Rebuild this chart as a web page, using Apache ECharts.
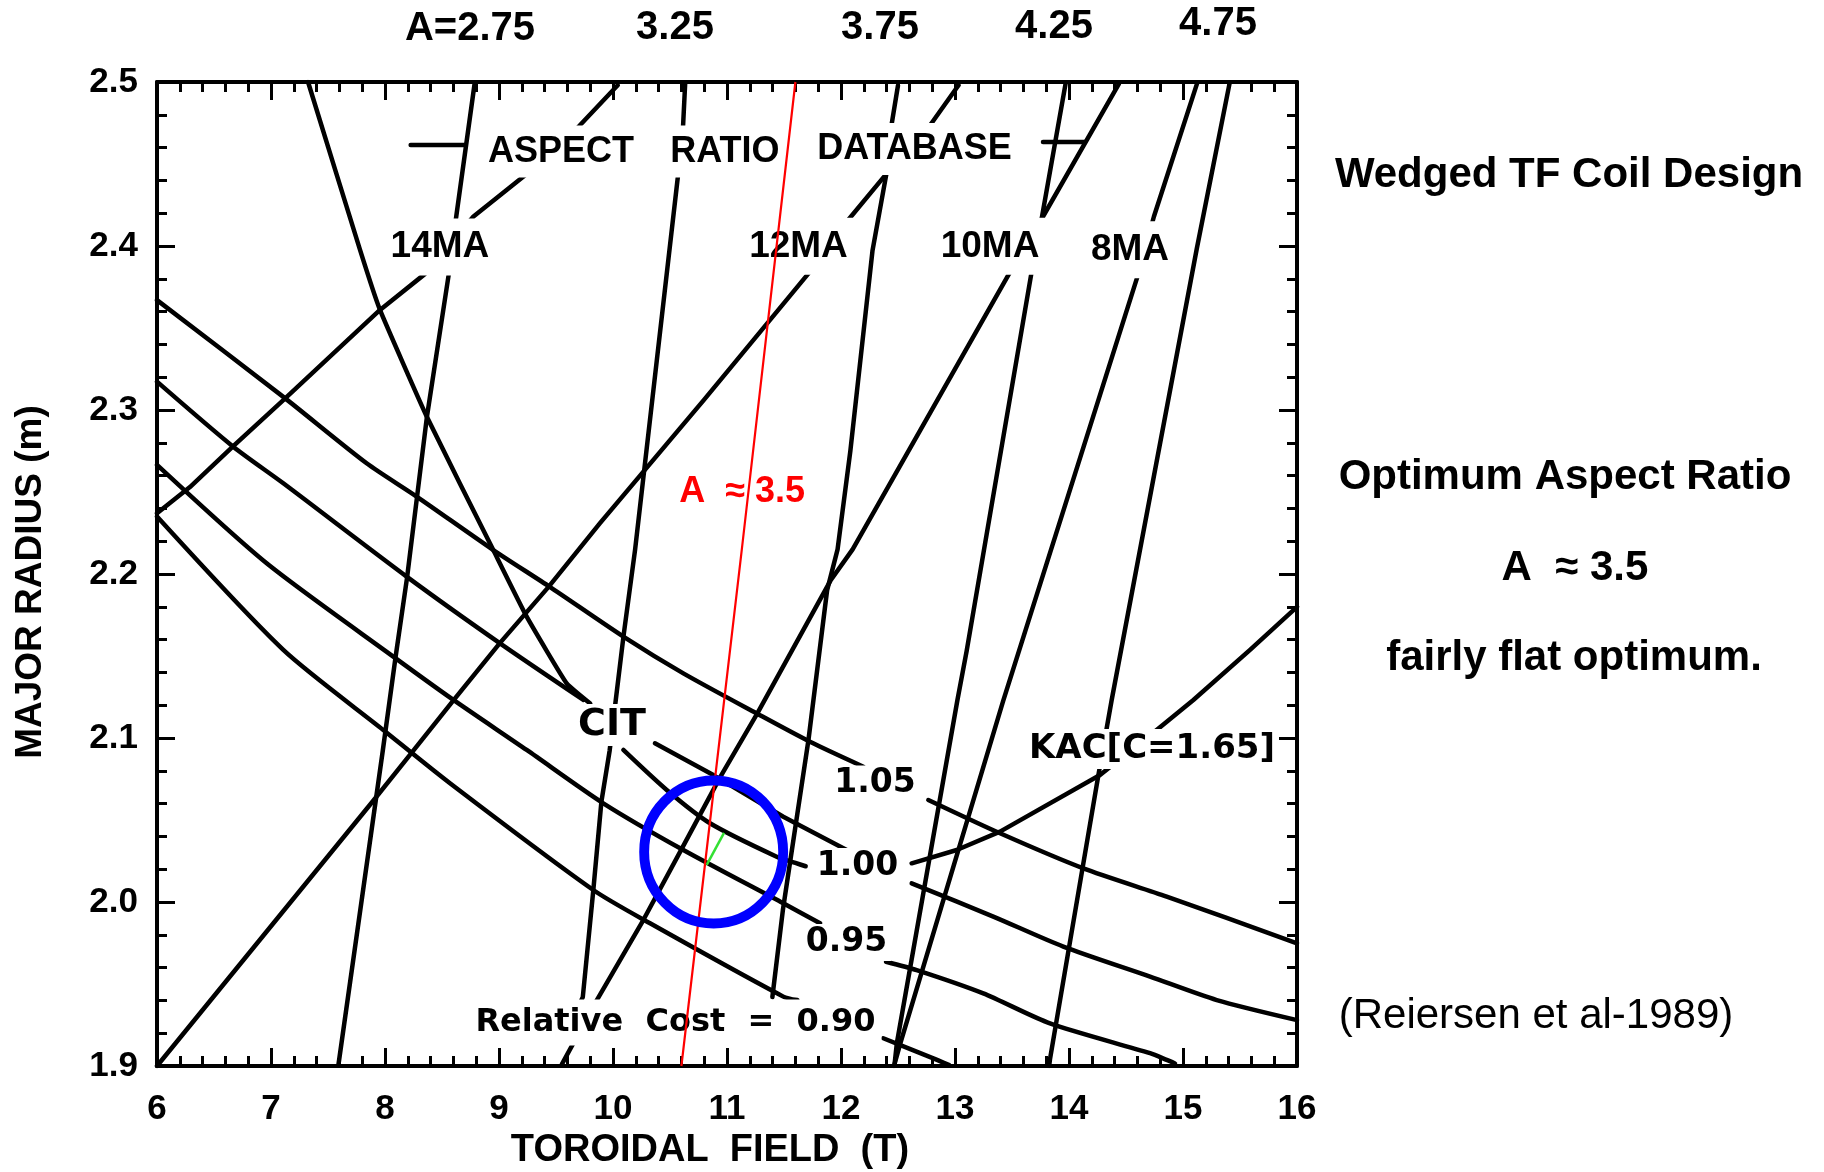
<!DOCTYPE html>
<html>
<head>
<meta charset="utf-8">
<script src="https://cdn.jsdelivr.net/npm/echarts@6/dist/echarts.min.js"></script>
<style>
html,body{margin:0;padding:0;background:#fff;}
#c{width:1824px;height:1172px;}
</style>
</head>
<body>
<div id="c"></div>
<script>
// ---------- data (toroidal field T, major radius m) ----------
const xTicks = [6, 7, 8, 9, 10, 11, 12, 13, 14, 15, 16];
const yTicks = [1.9, 2.0, 2.1, 2.2, 2.3, 2.4, 2.5];
const aspectTopLabels = ['A=2.75', '3.25', '3.75', '4.25', '4.75'];

// aspect-ratio lines
const aspect275 = [[8.786,2.499],[8.613,2.412],[8.562,2.384],[8.368,2.296],[8.194,2.198],[8.092,2.149],[7.980,2.092],[7.592,1.901]];
const aspect325 = [[10.633,2.499],[10.613,2.471],[10.572,2.444],[10.194,2.215],[10.092,2.162],[9.970,2.092],[9.898,2.061],[9.827,2.007],[9.735,1.942],[9.715,1.939]];
const aspect375 = [[12.500,2.498],[12.439,2.472],[12.398,2.444],[12.276,2.397],[12.082,2.275],[11.970,2.215],[11.878,2.190],[11.715,2.099],[11.490,1.995],[11.398,1.942]];
const aspect425 = [[13.970,2.499],[13.756,2.415],[13.674,2.385],[13.102,2.153],[13.021,2.123],[12.490,1.914],[12.470,1.901]];
const aspect475 = [[15.408,2.499],[15.120,2.398],[14.374,2.123],[14.257,2.077],[13.833,1.904],[13.826,1.900]];

// plasma current lines
const ma14 = [[6.000,2.237],[6.289,2.253],[6.669,2.278],[7.108,2.306],[7.956,2.361],[8.351,2.383],[8.776,2.418],[9.245,2.444],[9.633,2.468],[10.041,2.498]];
const ma12 = [[6.000,1.900],[7.888,2.061],[8.245,2.092],[8.600,2.123],[9.009,2.158],[9.433,2.192],[9.886,2.231],[10.796,2.306],[11.735,2.385],[12.041,2.414],[12.398,2.444],[12.755,2.471],[13.031,2.498]];
const ma10 = [[9.551,1.901],[9.857,1.940],[10.266,1.989],[10.592,2.031],[10.939,2.076],[11.266,2.115],[11.908,2.196],[12.102,2.215],[13.490,2.385],[13.756,2.416],[14.439,2.499]];
const ma8  = [[12.465,1.900],[12.521,1.914],[13.424,2.123],[14.608,2.383],[14.745,2.418],[15.123,2.499]];

// design traces
const citTrace = [[7.325,2.500],[7.781,2.3976],[7.956,2.361],[8.366,2.296],[8.950,2.2146],[9.243,2.174],[9.594,2.1333],[9.800,2.121]];
const citTail  = [[10.368,2.0968],[10.880,2.0774],[11.494,2.052],[12.050,2.0317]];
const kacTrace = [[16.000,2.180],[15.588,2.1537],[15.091,2.1232],[14.769,2.1049],[14.272,2.0774],[13.395,2.0429],[13.015,2.0317],[12.620,2.0236]];

// relative cost contours
const cost105Left  = [[6.000,2.367],[7.108,2.308],[7.839,2.2675],[8.278,2.2472],[8.950,2.2146],[9.449,2.192],[10.091,2.1618],[10.617,2.1394],[11.260,2.115],[11.728,2.0977],[12.196,2.0825]];
const cost105Right = [[12.766,2.0622],[13.395,2.0419],[14.126,2.0205],[14.857,2.0033],[16.000,1.9748]];
const cost100Left  = [[6.000,2.3173],[6.669,2.2776],[7.108,2.2553],[8.190,2.1984],[9.009,2.1577],[9.740,2.1232]];
const cost100Mid   = [[10.091,2.0927],[10.471,2.0683],[10.851,2.048],[11.436,2.0276],[11.600,2.0238],[11.690,2.0218]];
const cost100Right = [[12.620,2.0114],[13.336,1.9911],[13.950,1.9728],[14.711,1.9545],[15.296,1.9402],[16.000,1.928]];
const cost095Left  = [[6.000,2.2665],[6.962,2.2065],[8.073,2.1496],[8.600,2.1232],[9.243,2.0927],[9.915,2.0602],[10.617,2.0317],[11.494,1.9992],[11.816,1.987]];
const cost095Right = [[12.395,1.9636],[12.664,1.9585],[13.248,1.9443],[13.833,1.926],[14.711,1.9078],[14.857,1.9037],[14.930,1.9015]];
const cost090Left  = [[6.000,2.235],[7.108,2.1537],[7.985,2.1049],[8.570,2.0724],[9.827,2.0073],[10.325,1.987],[11.494,1.9423],[11.617,1.9402]];
const cost090Right = [[12.371,1.9169],[12.810,1.9047],[12.950,1.9005]];

// leader strokes of the "ASPECT RATIO DATABASE" note
const leaderLeft  = [[8.225,2.4616],[8.700,2.4616]];
const leaderRight = [[13.772,2.4634],[14.140,2.4634]];

// optimum annotations
const optimumLine   = [[11.60,2.500],[11.13,2.215],[10.60,1.900]];
const optimumCircle = [[10.883,2.0305]];
const optimumTick   = [[10.974,2.0421],[10.822,2.0226]];

// ---------- annotation placement ----------
const FONT = '"Liberation Sans", Arial, Helvetica, sans-serif';
const WIDE = '"DejaVu Sans", "Liberation Sans", sans-serif';
const labelKinds = {
  db:  {fontFamily: FONT, fontSize: 36, padding: [4,5,12,5]},
  ma:  {fontFamily: FONT, fontSize: 37, padding: [8,6,12,6]},
  num: {fontFamily: WIDE, fontSize: 33, padding: [2,4,2,4]},
  cit: {fontFamily: WIDE, fontSize: 38, padding: [2,4,2,4]},
  kac: {fontFamily: WIDE, fontSize: 34, padding: [3,4,3,4]},
  rel: {fontFamily: WIDE, fontSize: 32, padding: [2,6,12,6]}
};
const plotLabels = [
  {text:'ASPECT', at:[9.544,2.460], kind:'db'},
  {text:'RATIO', at:[10.982,2.460], kind:'db'},
  {text:'DATABASE', at:[12.645,2.4616], kind:'db'},
  {text:'14MA', at:[8.482,2.4006], kind:'ma'},
  {text:'12MA', at:[11.627,2.401], kind:'ma'},
  {text:'10MA', at:[13.307,2.401], kind:'ma'},
  {text:'8MA', at:[14.535,2.399], kind:'ma'},
  {text:'CIT', at:[9.991,2.108], kind:'cit'},
  {text:'1.05', at:[12.298,2.072], kind:'num'},
  {text:'1.00', at:[12.145,2.0216], kind:'num'},
  {text:'0.95', at:[12.048,1.9753], kind:'num'},
  {text:'Relative  Cost  =  0.90', at:[10.548,1.9296], kind:'rel'},
  {text:'KAC[C=1.65]', at:[14.728,2.0933], kind:'kac'}
];
const topLabelPos = [[470,29],[675,28],[880,28],[1054,27],[1218,24]];

function curve(data, extra) {
  return Object.assign({
    type: 'line', data: data, symbol: 'none', showSymbol: false, silent: true, animation: false,
    lineStyle: {color: '#000', width: 4.5, cap: 'round', join: 'round', opacity: 1}, z: 2
  }, extra || {});
}

const series = [];
[aspect275, aspect325, aspect375, aspect425, aspect475, ma14, ma12, ma10, ma8,
 citTail, kacTrace, leaderLeft, leaderRight].forEach(d => series.push(curve(d)));
series.push(curve(citTrace, {smooth: 0.12}));
[cost105Left, cost105Right, cost100Left, cost100Mid, cost100Right,
 cost095Left, cost095Right, cost090Left, cost090Right].forEach(d => series.push(curve(d, {smooth: 0.25})));

series.push({
  type: 'scatter', silent: true, animation: false, z: 3, symbolSize: 1,
  itemStyle: {color: 'rgba(0,0,0,0)', opacity: 1},
  data: plotLabels.map(l => {
    const k = labelKinds[l.kind];
    return {
      value: l.at,
      label: {
        show: true, position: 'inside', formatter: l.text, color: '#000', opacity: 1, fontWeight: 'bold',
        fontFamily: k.fontFamily, fontSize: k.fontSize, lineHeight: k.fontSize,
        backgroundColor: '#ffffff', padding: k.padding,
        offset: [0, (k.padding[2] - k.padding[0]) / 2]
      }
    };
  })
});

series.push(curve(optimumLine, {z: 4, lineStyle: {color: '#ff0000', width: 2.2, opacity: 1}}));
series.push({
  type: 'scatter', silent: true, animation: false, z: 4, symbolSize: 1,
  itemStyle: {color: 'rgba(0,0,0,0)', opacity: 1},
  data: [{value: [11.132, 2.25], label: {show: true, position: 'inside', formatter: 'A  \u2248 3.5',
    color: '#ff0000', opacity: 1, fontWeight: 'bold', fontSize: 36, fontFamily: FONT}}]
});
series.push({
  type: 'scatter', silent: true, animation: false, z: 5, symbol: 'circle', symbolSize: [139, 143],
  data: optimumCircle,
  itemStyle: {color: 'rgba(0,0,0,0)', borderColor: '#0000ff', borderWidth: 10, opacity: 1}
});
series.push(curve(optimumTick, {z: 6, lineStyle: {color: '#33e033', width: 2.5, opacity: 1}}));

const axisBase = {
  type: 'value',
  axisLine: {show: true, onZero: false, lineStyle: {color: '#000', width: 4}},
  axisTick: {show: true, inside: true, length: 18, lineStyle: {color: '#000', width: 3}},
  minorTick: {show: true, splitNumber: 5, length: 10, lineStyle: {color: '#000', width: 3}},
  splitLine: {show: false},
  minorSplitLine: {show: false}
};
const xRange = {min: xTicks[0], max: xTicks[xTicks.length - 1], interval: 1};
const yRange = {min: yTicks[0], max: yTicks[yTicks.length - 1], interval: 0.1};

const rightText = [
  {text: 'Wedged TF Coil Design', x: 1569, y: 175, weight: 'bold'},
  {text: 'Optimum Aspect Ratio', x: 1565, y: 477, weight: 'bold'},
  {text: 'A  \u2248 3.5', x: 1575, y: 568, weight: 'bold'},
  {text: 'fairly flat optimum.', x: 1574, y: 658, weight: 'bold'},
  {text: '(Reiersen et al-1989)', x: 1536, y: 1016, weight: 'normal'}
];

const graphics = [];
aspectTopLabels.forEach((t, i) => graphics.push({
  type: 'text', silent: true,
  style: {text: t, x: topLabelPos[i][0], y: topLabelPos[i][1], fill: '#000',
    font: 'bold 40px ' + FONT, align: 'center', verticalAlign: 'middle',
    textAlign: 'center', textVerticalAlign: 'middle'}
}));
rightText.forEach(t => graphics.push({
  type: 'text', silent: true,
  style: {text: t.text, x: t.x, y: t.y, fill: '#000',
    font: t.weight + ' 42px ' + FONT, align: 'center', verticalAlign: 'middle',
    textAlign: 'center', textVerticalAlign: 'middle'}
}));

const option = {
  animation: false,
  backgroundColor: '#fff',
  grid: {left: 157, right: 527, top: 82, bottom: 106, containLabel: false, outerBoundsMode: 'none'},
  xAxis: [
    Object.assign({}, axisBase, xRange, {
      position: 'bottom',
      axisLabel: {show: true, color: '#000', fontSize: 35, fontWeight: 'bold', fontFamily: FONT, margin: 26,
        showMinLabel: true, showMaxLabel: true},
      name: 'TOROIDAL  FIELD  (T)', nameLocation: 'middle', nameGap: 64,
      nameTextStyle: {color: '#000', fontSize: 38, fontWeight: 'bold', fontFamily: FONT, padding: [0, 34, 0, 0]}
    }),
    Object.assign({}, axisBase, xRange, {position: 'top', axisLabel: {show: false}})
  ],
  yAxis: [
    Object.assign({}, axisBase, yRange, {
      position: 'left',
      axisLabel: {show: true, color: '#000', fontSize: 35, fontWeight: 'bold', fontFamily: FONT, margin: 19,
        showMinLabel: true, showMaxLabel: true, formatter: v => Number(v).toFixed(1)},
      name: 'MAJOR RADIUS (m)', nameLocation: 'middle', nameGap: 108, nameRotate: 90,
      nameTextStyle: {color: '#000', fontSize: 37, fontWeight: 'bold', fontFamily: FONT, padding: [0, 16, 0, 0]}
    }),
    Object.assign({}, axisBase, yRange, {position: 'right', axisLabel: {show: false}})
  ],
  series: series,
  graphic: graphics
};

const chart = echarts.init(document.getElementById('c'), null, {renderer: 'canvas', width: 1824, height: 1172});
chart.setOption(option);
</script>
</body>
</html>
